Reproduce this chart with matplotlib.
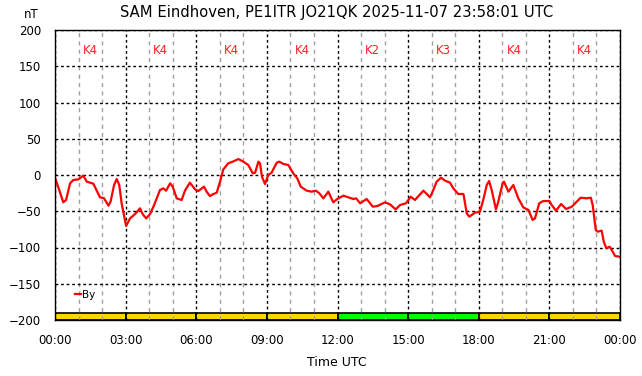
import numpy as np
import matplotlib
matplotlib.use('Agg')
import matplotlib.pyplot as plt

# By component (nT), time in hours UTC
hours = [0.0, 0.18, 0.35, 0.47, 0.64, 0.78, 0.99, 1.20, 1.35, 1.63, 1.91, 2.08, 2.27, 2.36,
         2.51, 2.62, 2.73, 2.83, 3.02, 3.19, 3.40, 3.61, 3.72, 3.87, 4.04, 4.21, 4.46, 4.60,
         4.72, 4.89, 5.00, 5.17, 5.38, 5.52, 5.73, 5.95, 6.09, 6.33, 6.44, 6.58, 6.73, 6.87,
         7.01, 7.15, 7.36, 7.55, 7.79, 8.00, 8.21, 8.40, 8.50, 8.64, 8.71, 8.79, 8.92, 9.06,
         9.20, 9.42, 9.53, 9.70, 9.91, 10.12, 10.29, 10.44, 10.69, 10.90, 11.08, 11.23, 11.40,
         11.61, 11.82, 11.99, 12.25, 12.46, 12.67, 12.79, 12.96, 13.24, 13.50, 13.69, 14.02,
         14.23, 14.47, 14.66, 14.91, 15.11, 15.29, 15.65, 15.93, 16.07, 16.21, 16.40, 16.57,
         16.78, 16.92, 17.13, 17.35, 17.49, 17.60, 17.84, 18.05, 18.19, 18.34, 18.44, 18.55,
         18.73, 18.83, 19.02, 19.07, 19.26, 19.47, 19.68, 19.89, 20.11, 20.29, 20.39, 20.57,
         20.74, 21.00, 21.10, 21.28, 21.50, 21.71, 21.95, 22.16, 22.33, 22.59, 22.76, 22.84,
         22.90, 22.97, 23.05, 23.22, 23.31, 23.42, 23.56, 23.69, 23.79, 23.97]
by_nt = [-3.7, -20.7, -37.7, -34.5, -11.5, -6.9, -6.0, -0.9, -9.2, -12.0, -30.8, -32.0, -42.3, -36.8,
         -13.8, -5.5, -13.8, -39.0, -70.3, -59.8, -53.8, -46.0, -53.8, -59.8, -53.8, -41.4, -20.7, -18.4,
         -21.6, -11.5, -16.1, -32.2, -34.5, -21.6, -10.6, -19.8, -22.1, -16.1, -23.0, -29.0, -26.2, -24.4,
         -9.2, 7.8, 16.1, 18.4, 22.0, 18.4, 13.8, 2.3, 3.2, 18.4, 16.0, -2.3, -12.4, 0.0,
         3.2, 17.0, 18.4, 15.2, 13.8, 2.3, -4.6, -16.1, -21.6, -23.0, -21.6, -25.3, -32.2,
         -23.0, -37.7, -33.1, -28.5, -30.8, -33.1, -32.2, -39.0, -33.1, -43.7, -42.8, -37.7,
         -40.5, -47.4, -41.4, -39.0, -29.9, -34.5, -21.6, -30.8, -20.7, -9.2, -3.7, -7.8,
         -10.6, -18.4, -26.2, -26.2, -52.9, -57.5, -52.0, -50.6, -34.5, -13.8, -8.3, -20.7,
         -47.4, -36.8, -10.6, -9.2, -23.0, -13.8, -32.2, -44.6, -48.3, -62.1, -59.8, -39.0,
         -35.9, -35.9, -41.4, -49.2, -40.0, -46.9, -43.7, -36.8, -31.3, -32.2, -31.3, -41.4,
         -57.5, -75.9, -78.2, -76.8, -92.0, -101.0, -98.9, -105.7, -111.7, -112.6]

# Kp index per 3-hour block
k_labels = ['K4', 'K4', 'K4', 'K4', 'K2', 'K3', 'K4', 'K4']
k_colors = ['#ffd700', '#ffd700', '#ffd700', '#ffd700', '#00ff00', '#00ff00', '#ffd700', '#ffd700']

fig = plt.figure(figsize=(6.42, 3.76), dpi=100)
ax = fig.add_axes([55 / 642, 1 - 320 / 376, 565 / 642, 290 / 376])

ax.set_xlim(0, 24)
ax.set_ylim(-200, 200)

# grid: black dotted every 3h / 50 nT, grey dashed every hour
ax.set_xticks(np.arange(0, 25, 3))
ax.set_xticks(np.arange(0, 25, 1), minor=True)
ax.set_yticks(np.arange(-200, 201, 50))
ax.grid(which='major', color='black', linestyle=(0, (2, 2)), linewidth=1, zorder=3)
ax.grid(which='minor', axis='x', color='#a0a0a0', linestyle=(0, (3, 3)), linewidth=1, zorder=3)
ax.set_axisbelow(False)

ax.set_xticklabels(['00:00', '03:00', '06:00', '09:00', '12:00', '15:00', '18:00', '21:00', '00:00'])
ax.tick_params(which='both', length=0, labelsize=8.5, pad=10)
ax.tick_params(axis='y', pad=10)

# K index bar along the bottom
for i, (lab, col) in enumerate(zip(k_labels, k_colors)):
    ax.bar(i * 3, 9.6, width=3, bottom=-200, align='edge', color=col,
           edgecolor='black', linewidth=1.2, zorder=2)
    ax.text(i * 3 + 1.5, 172, lab, color='#ff2020', fontsize=8.5, ha='center', va='center')

ax.plot(hours, by_nt, color='#ff0000', linewidth=1.6, label='By', zorder=4)

for s in ax.spines.values():
    s.set_linewidth(1)
    s.set_zorder(5)

ax.legend(loc='lower left', bbox_to_anchor=(0.028, 0.055), frameon=False, fontsize=7.5,
          handlelength=0.6, handletextpad=0.1, borderaxespad=0)

fig.text(337 / 642, 1 - 12 / 376, 'SAM Eindhoven, PE1ITR JO21QK 2025-11-07 23:58:01 UTC',
         ha='center', va='center', fontsize=10.6)
fig.text(31 / 642, 1 - 15 / 376, 'nT', ha='center', va='center', fontsize=8.5)
fig.text(337 / 642, 1 - 362 / 376, 'Time UTC', ha='center', va='center', fontsize=9)

fig.savefig('out.png', dpi=100)
